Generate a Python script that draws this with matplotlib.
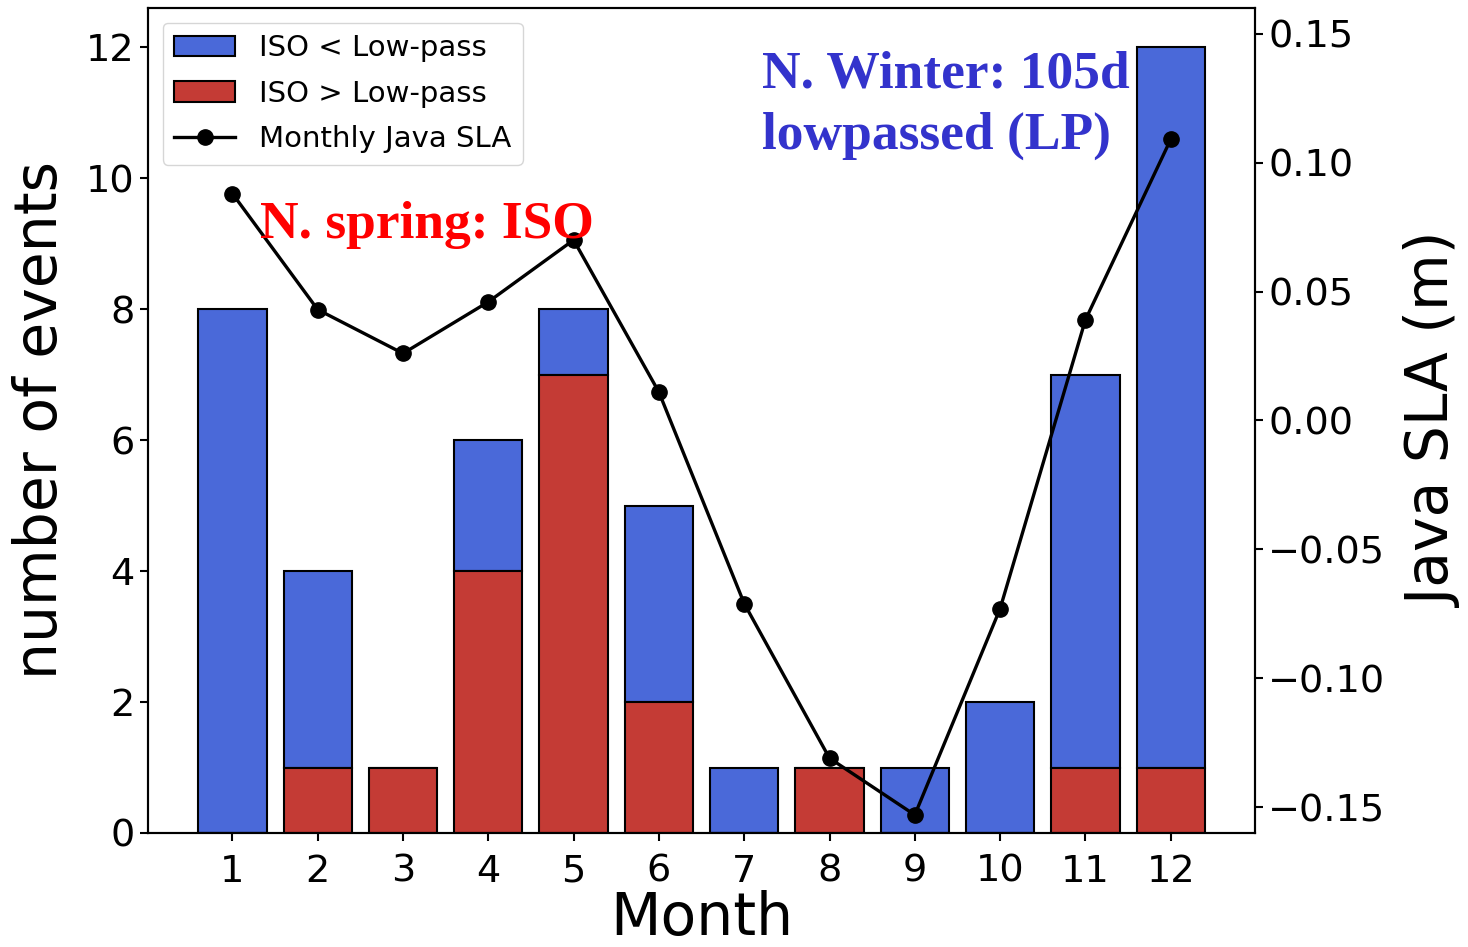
import numpy as np
import matplotlib
matplotlib.use("Agg")
from matplotlib import pyplot as plt

months = np.arange(1, 13)
iso_gt_lp = [0, 1, 1, 4, 7, 2, 0, 1, 0, 0, 1, 1]   # red, bottom
iso_lt_lp = [8, 3, 0, 2, 1, 3, 1, 0, 1, 2, 6, 11]  # blue, stacked on top
java_sla = [0.088, 0.043, 0.026, 0.046, 0.070, 0.011,
            -0.071, -0.131, -0.153, -0.073, 0.039, 0.109]

blue = "#4a69d9"
red = "#c43b35"

fig = plt.figure(figsize=(14.68, 9.47), dpi=100)
ax1 = fig.add_axes([0.1008, 0.1204, 0.7542, 0.8712])
ax2 = ax1.twinx()

b1 = ax1.bar(months, iso_lt_lp, bottom=iso_gt_lp, width=0.8, color=blue,
             edgecolor="black", linewidth=1.5, label="ISO < Low-pass")
b2 = ax1.bar(months, iso_gt_lp, width=0.8, color=red,
             edgecolor="black", linewidth=1.5, label="ISO > Low-pass")
ln, = ax2.plot(months, java_sla, color="black", linewidth=2.4, marker="o",
               markersize=11, label="Monthly Java SLA")

ax1.set_xticks(months)
ax1.set_yticks(np.arange(0, 13, 2))
ax2.set_ylim(-0.16, 0.16)
ax2.set_yticks([-0.15, -0.10, -0.05, 0.0, 0.05, 0.10, 0.15])
ax2.set_yticklabels(["\u22120.15", "\u22120.10", "\u22120.05", "0.00",
                     "0.05", "0.10", "0.15"])

for ax in (ax1, ax2):
    ax.tick_params(labelsize=27.5, width=1.5, length=6)
    for s in ax.spines.values():
        s.set_linewidth(1.5)
ax1.tick_params(axis="x", pad=9)

ax1.set_xlabel("Month", fontsize=42, labelpad=0)
ax1.set_ylabel("number of events", fontsize=42, labelpad=12)
ax2.set_ylabel("Java SLA (m)", fontsize=42, labelpad=15)

ax2.legend([b1, b2, ln], [b1.get_label(), b2.get_label(), ln.get_label()],
           loc="upper left", fontsize=21, handlelength=2.1, labelspacing=0.6,
           bbox_to_anchor=(0.0, 1.0), borderaxespad=0.5)

fig.text(260 / 1468, 1 - 238 / 947, "N. spring: ISO", color="red",
         fontsize=38.5, fontweight="bold", family="Liberation Serif",
         ha="left", va="baseline")
fig.text(762 / 1468, 1 - 87 / 947, "N. Winter: 105d",
         color="#3333cc", fontsize=38.5, fontweight="bold",
         family="Liberation Serif", ha="left", va="baseline")
fig.text(762 / 1468, 1 - 149 / 947, "lowpassed (LP)",
         color="#3333cc", fontsize=38.5, fontweight="bold",
         family="Liberation Serif", ha="left", va="baseline")

fig.savefig("out.png", dpi=100)
